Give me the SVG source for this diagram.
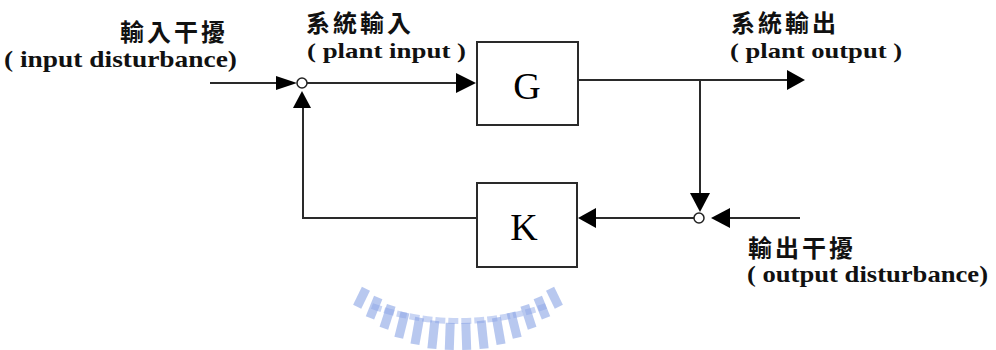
<svg xmlns="http://www.w3.org/2000/svg" width="996" height="350" viewBox="0 0 996 350">
<style>
.ln{fill:none;stroke:#2a2a2a;stroke-width:2}
.ah{fill:#000;stroke:none}
.box{fill:#fff;stroke:#2a2a2a;stroke-width:2}
.sum{fill:#fff;stroke:#222;stroke-width:1.5}
.cjk{font-family:"Noto Sans CJK TC","Noto Sans CJK SC",sans-serif;font-weight:bold;font-size:24px;fill:#111;letter-spacing:3px}
.en{font-family:"Liberation Serif","Times New Roman",serif;font-size:24px;fill:#111;font-weight:bold}
.en2{font-family:"Liberation Serif","Times New Roman",serif;font-size:22px;fill:#111;font-weight:bold}
.blk{font-family:"Liberation Serif","Times New Roman",serif;font-size:38px;fill:#000;text-anchor:middle}
.wm{fill:#8aa4e6;opacity:0.6}
</style>
<rect width="996" height="350" fill="#fff"/>
<g id="watermark">
<path d="M 372 306 A 250 240 0 0 0 546 306" fill="none" stroke="#c9d5f4" stroke-width="6" stroke-dasharray="10 3"/>
<g class="wm">
<rect x="-4.5" y="210" width="9" height="20" transform="translate(458 100) rotate(26)"/>
<rect x="-4.5" y="213" width="9" height="22" transform="translate(458 100) rotate(22)"/>
<rect x="-4.5" y="216" width="9" height="24" transform="translate(458 100) rotate(18)"/>
<rect x="-4.5" y="219" width="9" height="26" transform="translate(458 100) rotate(14)"/>
<rect x="-4.5" y="221" width="9" height="27" transform="translate(458 100) rotate(10)"/>
<rect x="-4.5" y="222" width="9" height="28" transform="translate(458 100) rotate(6)"/>
<rect x="-4.5" y="223" width="9" height="27" transform="translate(458 100) rotate(2)"/>
<rect x="-4.5" y="223" width="9" height="27" transform="translate(458 100) rotate(-2)"/>
<rect x="-4.5" y="222" width="9" height="28" transform="translate(458 100) rotate(-6)"/>
<rect x="-4.5" y="221" width="9" height="27" transform="translate(458 100) rotate(-10)"/>
<rect x="-4.5" y="219" width="9" height="26" transform="translate(458 100) rotate(-14)"/>
<rect x="-4.5" y="216" width="9" height="24" transform="translate(458 100) rotate(-18)"/>
<rect x="-4.5" y="213" width="9" height="22" transform="translate(458 100) rotate(-22)"/>
<rect x="-4.5" y="210" width="9" height="20" transform="translate(458 100) rotate(-26)"/>
</g>
</g>
<g id="connectors">
<line class="ln" x1="210" y1="83" x2="278" y2="83"/>
<polygon class="ah" points="297,83 276,76 276,90"/>
<line class="ln" x1="307" y1="83" x2="458" y2="83"/>
<polygon class="ah" points="476,83 456,73 456,93"/>
<line class="ln" x1="578" y1="80" x2="788" y2="80"/>
<polygon class="ah" points="805,80 787,70 787,90"/>
<line class="ln" x1="700" y1="80" x2="700" y2="195"/>
<polygon class="ah" points="700,212 690,193 710,193"/>
<line class="ln" x1="800" y1="218" x2="729" y2="218"/>
<polygon class="ah" points="711,218 730,208 730,228"/>
<line class="ln" x1="694" y1="218" x2="594" y2="218"/>
<polygon class="ah" points="578,218 596,208 596,228"/>
<polyline class="ln" points="477,218 303,218 303,106"/>
<polygon class="ah" points="302,91 293,108 311,108"/>
</g>
<g id="sum1"><circle class="sum" cx="302" cy="83" r="5"/></g>
<g id="sum2"><circle class="sum" cx="699" cy="218" r="5"/></g>
<g id="G"><rect class="box" x="477" y="42" width="101" height="83"/><text class="blk" x="527" y="99">G</text></g>
<g id="K"><rect class="box" x="477" y="183" width="100" height="84"/><text class="blk" x="524" y="240">K</text></g>
<g id="input-disturbance">
<text class="cjk" x="120" y="41">輸入干擾</text>
<text class="en" x="4" y="67" textLength="233" lengthAdjust="spacingAndGlyphs">( input disturbance)</text>
</g>
<g id="plant-input">
<text class="cjk" x="306" y="32">系統輸入</text>
<text class="en2" x="307" y="58" textLength="159" lengthAdjust="spacingAndGlyphs">( plant input )</text>
</g>
<g id="plant-output">
<text class="cjk" x="731" y="32">系統輸出</text>
<text class="en2" x="730" y="58" textLength="172" lengthAdjust="spacingAndGlyphs">( plant output )</text>
</g>
<g id="output-disturbance">
<text class="cjk" x="748" y="257">輸出干擾</text>
<text class="en" x="747" y="282" textLength="241" lengthAdjust="spacingAndGlyphs">( output disturbance)</text>
</g>
</svg>
